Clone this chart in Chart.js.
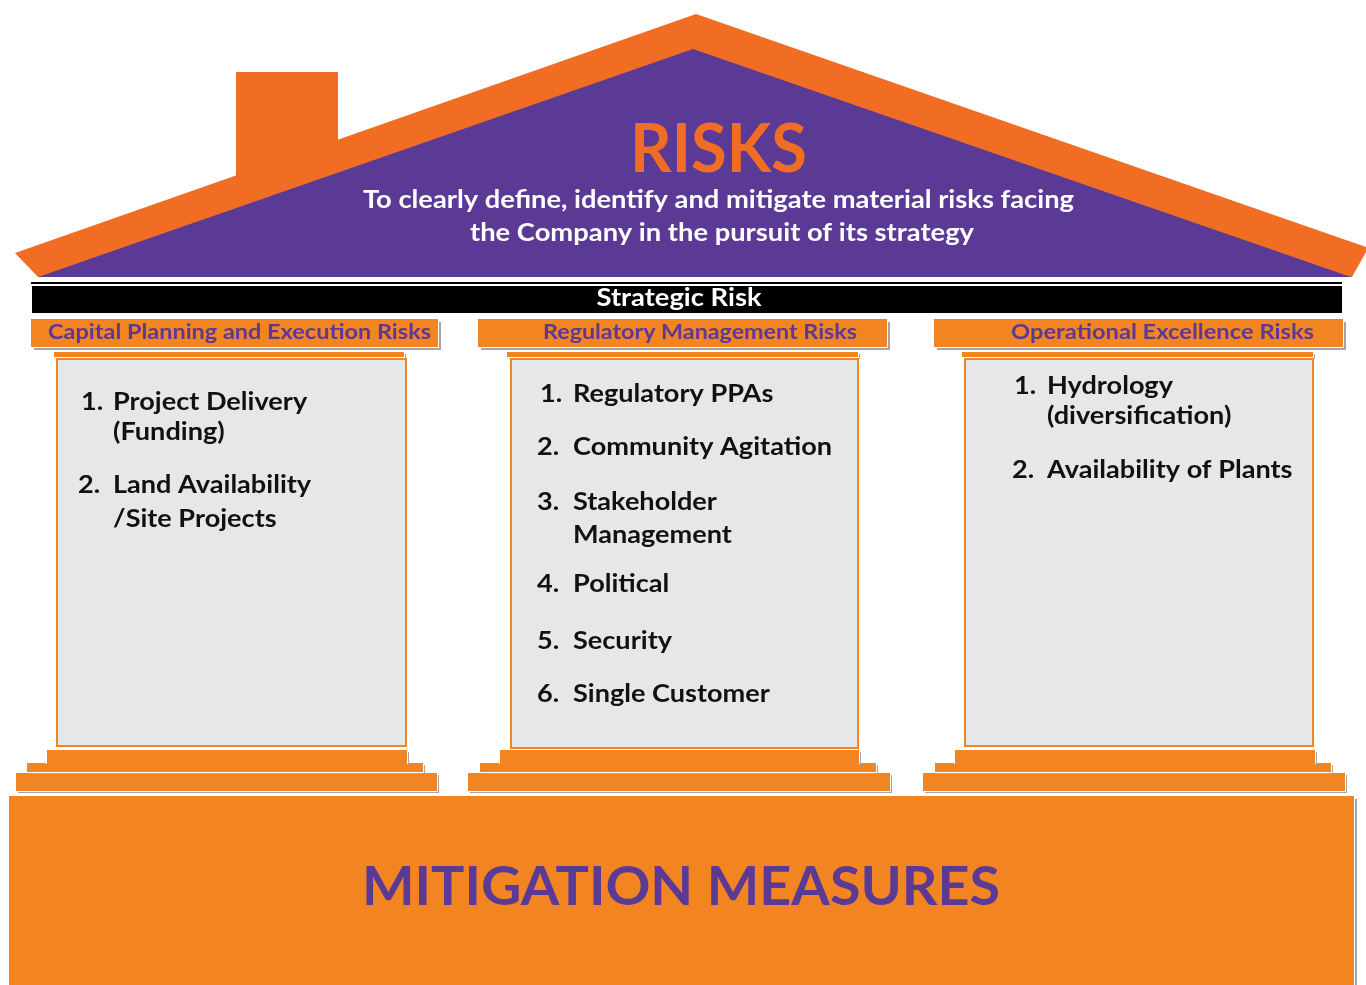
<!DOCTYPE html>
<html>
<head>
<meta charset="utf-8">
<script src="https://cdn.jsdelivr.net/npm/chart.js@4.4.1/dist/chart.umd.min.js"></script>
<style>
  html, body { margin: 0; padding: 0; background: #fff; overflow: hidden; }
  canvas { display: block; }
</style>
</head>
<body>
<canvas id="house" width="1366" height="985"></canvas>
<script>
// ---- content of the diagram ----
const roofTitle = 'RISKS';
const roofLines = ['To clearly define, identify and mitigate material risks facing', 'the Company in the pursuit of its strategy'];
const beamLabel = 'Strategic Risk';
const pillarTitles = ['Capital Planning and Execution Risks', 'Regulatory Management Risks', 'Operational Excellence Risks'];
const pillar1Items = [['1.', 'Project Delivery', '(Funding)'], ['2.', 'Land Availability', '/Site Projects']];
const pillar2Items = [['1.', 'Regulatory PPAs'], ['2.', 'Community Agitation'], ['3.', 'Stakeholder', 'Management'], ['4.', 'Political'], ['5.', 'Security'], ['6.', 'Single Customer']];
const pillar3Items = [['1.', 'Hydrology', '(diversification)'], ['2.', 'Availability of Plants']];
const baseLabel = 'MITIGATION MEASURES';

// ---- colours ----
const PURPLE = '#5b3a96';
const ROOF_ORANGE = '#f26d24';
const ORANGE = '#f38422';
const PILLAR_GREY = '#e6e7e8';
const SHADOW = '#a3a5a8';

// ---- layout (pixel units of the 1366 x 985 picture) ----
const roofOuter = [[15, 253], [696, 14], [1366, 247], [1366, 252], [1352, 277], [38, 277]];
const roofInner = [[38, 277], [693, 49], [1351, 277]];
const chimney = [236, 72, 338, 178];
const beamLine = [31, 282, 1342, 284];
const beam = [32, 286, 1342, 313];
const baseBox = [9, 796, 1354, 985];

const pillars = [
  { items: pillar1Items, head: [31, 319, 438, 347], strip: [54, 352, 404, 357], body: [57, 359, 406, 746],
    steps: [[47, 750, 407, 763], [27, 763, 423, 772], [16, 773, 437, 791]],
    titleX: 48, titleW: 383, numX: [81, 78], textX: 113, base: [[410, 440], [493, 527]] },
  { items: pillar2Items, head: [478, 319, 887, 347], strip: [507, 352, 858, 357], body: [511, 359, 858, 748],
    steps: [[500, 750, 859, 763], [480, 763, 876, 772], [468, 773, 890, 791]],
    titleX: 543, titleW: 314, numX: [540, 537, 537, 537, 537, 537], textX: 573,
    base: [[402], [455], [510, 543], [592], [649], [702]] },
  { items: pillar3Items, head: [934, 319, 1343, 347], strip: [962, 352, 1313, 357], body: [965, 359, 1313, 746],
    steps: [[955, 750, 1315, 763], [935, 763, 1331, 772], [923, 773, 1345, 791]],
    titleX: 1011, titleW: 303, numX: [1014, 1012], textX: 1047, base: [[394, 424], [478]] }
];

// ---- build polygon datasets (drawn in list order) ----
const shapes = [];
function rectPts(r) {
  return [[r[0], r[1]], [r[2], r[1]], [r[2], r[3]], [r[0], r[3]], [r[0], r[1]]];
}
function addShape(pts, color, stroke, strokeW) {
  shapes.push({
    data: pts.map(p => ({ x: p[0], y: p[1] })),
    backgroundColor: color,
    borderColor: stroke || 'transparent',
    borderWidth: strokeW || 0,
    fill: color ? 'shape' : false,
    pointRadius: 0,
    tension: 0
  });
}
function boxWithShadow(r, color, d) {
  addShape(rectPts([r[0] + d, r[1] + d, r[2] + d, r[3] + d]), SHADOW);
  addShape(rectPts([r[0] - 1, r[1] - 1, r[2] + 1, r[3] + 1]), '#ffffff');
  addShape(rectPts(r), color);
}

addShape(rectPts(chimney), ROOF_ORANGE);
addShape(roofOuter, ROOF_ORANGE);
addShape(roofInner, PURPLE);
addShape(rectPts(beamLine), '#000000');
addShape(rectPts(beam), '#000000');

pillars.forEach(p => {
  boxWithShadow(p.head, ORANGE, 3);
  boxWithShadow(p.strip, ORANGE, 2);
  addShape(rectPts(p.body), PILLAR_GREY, ORANGE, 2);
  boxWithShadow(p.steps[2], ORANGE, 2);
  boxWithShadow(p.steps[1], ORANGE, 2);
  boxWithShadow(p.steps[0], ORANGE, 2);
  addShape(rectPts([p.steps[0][0], p.steps[0][1], p.steps[0][2], p.steps[1][3]]), ORANGE);
});

boxWithShadow(baseBox, ORANGE, 3);

shapes.forEach((s, i) => { s.order = shapes.length - i; });

// ---- text drawn at scale positions ----
function drawText(chart, str, vx, vy, font, color, align, fitW, sx) {
  const { ctx, scales } = chart;
  const px = scales.x.getPixelForValue(vx);
  const py = scales.y.getPixelForValue(vy);
  ctx.save();
  ctx.font = font;
  ctx.fillStyle = color;
  ctx.textBaseline = 'alphabetic';
  ctx.textAlign = align;
  let k = sx || 1;
  if (fitW) k = fitW / ctx.measureText(str).width;
  ctx.translate(px, py);
  ctx.scale(k, 1);
  ctx.fillText(str, 0, 0);
  ctx.restore();
}

const labelsPlugin = {
  id: 'houseLabels',
  afterDatasetsDraw(chart) {
    const ctx = chart.ctx;
    const F = '"Lato", "Open Sans", sans-serif';

    drawText(chart, roofTitle, 630, 172, 'bold 66px ' + F, ROOF_ORANGE, 'left', 177);
    drawText(chart, roofLines[0], 718.5, 208, 'bold 25px ' + F, '#ffffff', 'center', 711);
    drawText(chart, roofLines[1], 722, 241, 'bold 25px ' + F, '#ffffff', 'center', 504);
    drawText(chart, beamLabel, 679, 306, 'bold 25px ' + F, '#ffffff', 'center', 165);

    // one horizontal scale for all list items
    ctx.save();
    ctx.font = 'bold 25px ' + F;
    const itemScale = 259 / ctx.measureText('Community Agitation').width;
    ctx.restore();

    pillars.forEach((p, i) => {
      drawText(chart, pillarTitles[i], p.titleX, 339, 'bold 21px ' + F, PURPLE, 'left', p.titleW);
      p.items.forEach((item, j) => {
        drawText(chart, item[0], p.numX[j], p.base[j][0], 'bold 25px ' + F, '#111111', 'left', null, itemScale);
        for (let k = 1; k < item.length; k++) {
          drawText(chart, item[k], p.textX, p.base[j][k - 1], 'bold 25px ' + F, '#111111', 'left', null, itemScale);
        }
      });
    });

    drawText(chart, baseLabel, 362, 905, 'bold 53px ' + F, PURPLE, 'left', 638);
  }
};

new Chart(document.getElementById('house'), {
  type: 'line',
  data: { datasets: shapes },
  options: {
    responsive: false,
    animation: false,
    devicePixelRatio: 1,
    layout: { padding: 0 },
    scales: {
      x: { type: 'linear', min: 0, max: 1366, display: false },
      y: { type: 'linear', min: 0, max: 985, reverse: true, display: false }
    },
    plugins: {
      legend: { display: false },
      tooltip: { enabled: false }
    },
    elements: { line: { capBezierPoints: false } }
  },
  plugins: [labelsPlugin]
});
</script>
</body>
</html>
